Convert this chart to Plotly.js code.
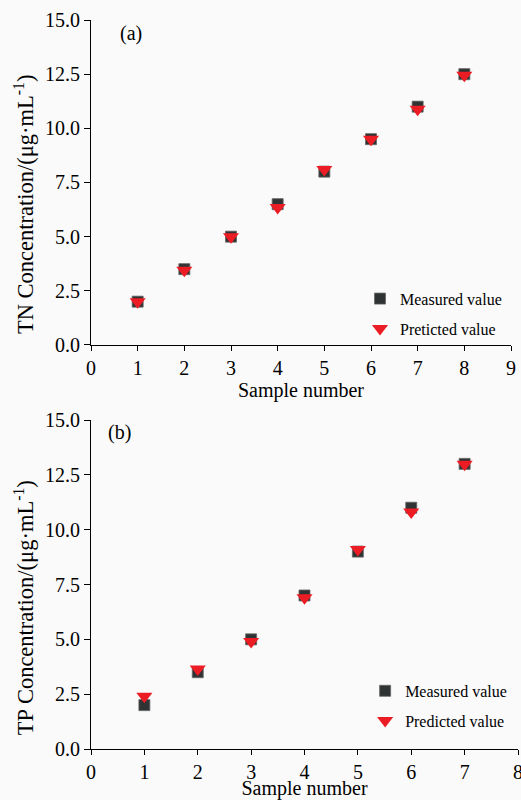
<!DOCTYPE html>
<html>
<head>
<meta charset="utf-8">
<script src="https://cdn.plot.ly/plotly-3.0.1.min.js"></script>
<style>html,body{margin:0;padding:0;background:#fafafa;}</style>
</head>
<body>
<div id="chart" style="width:521px;height:800px;"></div>
<script>
// Panel (a): TN
const tnSamples = [1, 2, 3, 4, 5, 6, 7, 8];
const tnMeasured = [2.0, 3.5, 5.0, 6.5, 8.0, 9.5, 11.0, 12.5];
const tnPredicted = [2.0, 3.45, 5.0, 6.35, 8.1, 9.5, 10.88, 12.45];
// Panel (b): TP
const tpSamples = [1, 2, 3, 4, 5, 6, 7];
const tpMeasured = [2.0, 3.5, 5.0, 7.0, 9.0, 11.0, 13.0];
const tpPredicted = [2.4, 3.65, 4.9, 6.9, 9.1, 10.8, 12.98];
const yTickVals = [0, 2.5, 5, 7.5, 10, 12.5, 15];
const yTickText = ['0.0', '2.5', '5.0', '7.5', '10.0', '12.5', '15.0'];
const tnTitle = 'TN Concentration/(μg·mL<sup>-1</sup>)';
const tpTitle = 'TP Concentration/(μg·mL<sup>-1</sup>)';

const FONT = 'Liberation Serif, Times New Roman, serif';
const sqColor = '#303333';
const triColor = '#ec1c24';

const traces = [
  {x: tnSamples, y: tnMeasured, xaxis: 'x', yaxis: 'y', type: 'scatter', mode: 'markers',
   name: 'Measured value', legend: 'legend', legendgroup: 'a1',
   marker: {symbol: 'square', size: 11, color: sqColor, line: {color: '#666', width: 0.8}}},
  {x: tnSamples, y: tnPredicted, xaxis: 'x', yaxis: 'y', type: 'scatter', mode: 'markers',
   name: 'Preticted value', legend: 'legend', legendgroup: 'a2',
   marker: {symbol: 'triangle-down', size: 14, color: triColor, line: {width: 0}}},
  {x: tpSamples, y: tpMeasured, xaxis: 'x2', yaxis: 'y2', type: 'scatter', mode: 'markers',
   name: 'Measured value', legend: 'legend2', legendgroup: 'b1',
   marker: {symbol: 'square', size: 11, color: sqColor, line: {color: '#666', width: 0.8}}},
  {x: tpSamples, y: tpPredicted, xaxis: 'x2', yaxis: 'y2', type: 'scatter', mode: 'markers',
   name: 'Predicted value', legend: 'legend2', legendgroup: 'b2',
   marker: {symbol: 'triangle-down', size: 14, color: triColor, line: {width: 0}}}
];

function xAxis(range, dtick, domain, anchor, standoff) {
  return {
    domain: domain, anchor: anchor, range: range, dtick: dtick, tick0: 0,
    showgrid: false, zeroline: false, showline: true, linecolor: '#000', linewidth: 1,
    ticks: 'outside', ticklen: 5, tickwidth: 1, tickcolor: '#000',
    ticklabeloverflow: 'allow',
    tickfont: {family: FONT, size: 20, color: '#000'},
    title: {text: 'Sample number', font: {family: FONT, size: 20, color: '#000'}, standoff: standoff}
  };
}
function yAxis(domain, anchor) {
  return {
    domain: domain, anchor: anchor, range: [0, 15], tickvals: yTickVals, ticktext: yTickText,
    showgrid: false, zeroline: false, showline: true, linecolor: '#000', linewidth: 1,
    ticks: 'outside', ticklen: 6, tickwidth: 1, tickcolor: '#000',
    tickfont: {family: FONT, size: 20, color: '#000'}
  };
}

const layout = {
  width: 521, height: 800,
  margin: {l: 91, r: 3, t: 20, b: 51},
  paper_bgcolor: '#fafafa', plot_bgcolor: '#fafafa',
  font: {family: FONT, color: '#000'},
  xaxis: xAxis([0, 9], 1, [0, 0.9836], 'y', 3),
  yaxis: yAxis([0.5542, 1], 'x'),
  xaxis2: xAxis([0, 8], 1, [0, 1], 'y2', 8),
  yaxis2: yAxis([0, 0.4513], 'x2'),
  legend: {x: 0.63, y: 0.641, xanchor: 'left', yanchor: 'top', bgcolor: 'rgba(0,0,0,0)',
           font: {family: FONT, size: 16, color: '#000'}, tracegroupgap: 6},
  legend2: {x: 0.642, y: 0.103, xanchor: 'left', yanchor: 'top', bgcolor: 'rgba(0,0,0,0)',
           font: {family: FONT, size: 16, color: '#000'}, tracegroupgap: 6},
  annotations: [
    {text: '(a)', xref: 'x', yref: 'y', x: 0.86, y: 14.4, showarrow: false,
     font: {family: FONT, size: 20, color: '#000'}},
    {text: '(b)', xref: 'x2', yref: 'y2', x: 0.54, y: 14.45, showarrow: false,
     font: {family: FONT, size: 20, color: '#000'}},
    {text: tnTitle, textangle: -90, xref: 'paper', yref: 'paper', x: -0.157, y: 0.7475,
     xanchor: 'center', yanchor: 'middle', showarrow: false,
     font: {family: FONT, size: 22.5, color: '#000'}},
    {text: tpTitle, textangle: -90, xref: 'paper', yref: 'paper', x: -0.157, y: 0.1945,
     xanchor: 'center', yanchor: 'middle', showarrow: false,
     font: {family: FONT, size: 22.5, color: '#000'}}
  ],
  showlegend: true
};

Plotly.newPlot('chart', traces, layout, {displayModeBar: false, staticPlot: true});
</script>
</body>
</html>
